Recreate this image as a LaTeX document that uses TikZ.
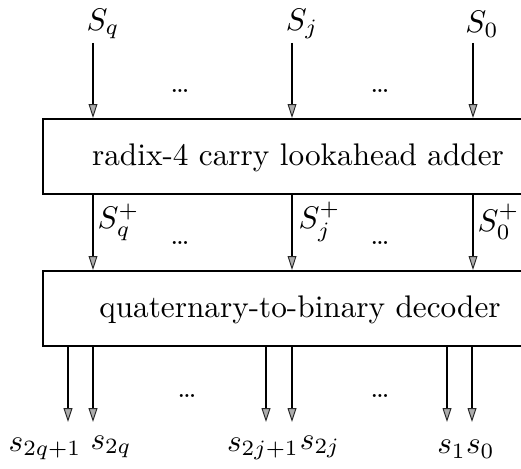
\documentclass[tikz,border=0pt]{standalone}
\usetikzlibrary{arrows.meta}
\begin{document}
\begin{tikzpicture}[x=0.32pt,y=-0.32pt,
  arr/.style={line width=0.7pt, -{Triangle[length=4.4pt,width=2.8pt,color=black!85,fill=gray!65,line width=0.3pt]}},
  box/.style={draw, line width=0.8pt, minimum height=23.9pt, minimum width=160pt, inner sep=0pt},
  lbl/.style={inner sep=0pt},
  dd/.style={inner sep=0pt, font=\small}]
\useasboundingbox (0,0) rectangle (521,469);
\clip (0,0) rectangle (521,469);
% column coordinates
\coordinate (cq) at (93,43);
\coordinate (cj) at (292,43);
\coordinate (c0) at (473,43);
\coordinate (bq1) at (68,422);
\coordinate (bq) at (93,422);
\coordinate (bj1) at (266,422);
\coordinate (bj) at (292,422);
\coordinate (b1) at (447,422);
\coordinate (b0) at (472,422);
% boxes
\node[box] (adder) at (293,156.5) {};
\node[box] (dec) at (293,308.5) {};
\node[lbl] (addertext) at (298,158) {radix-4 carry lookahead adder};
\node[lbl] (dectext) at (300,310) {quaternary-to-binary decoder};
% top labels
\node[lbl] (Sq) at (103,24) {$S_q$};
\node[lbl] (Sj) at (302,24) {$S_j$};
\node[lbl] (S0) at (482,24) {$S_0$};
% top arrows
\draw[arr] (cq) -- (cq |- adder.north);
\draw[arr] (cj) -- (cj |- adder.north);
\draw[arr] (c0) -- (c0 |- adder.north);
\node[dd] at (180,91) {\dots};
\node[dd] at (380,91) {\dots};
% middle arrows
\draw[arr] (cq |- adder.south) -- (cq |- dec.north);
\draw[arr] (cj |- adder.south) -- (cj |- dec.north);
\draw[arr] (c0 |- adder.south) -- (c0 |- dec.north);
\node[lbl,anchor=west] (Sqp) at (97,222) {$S_q^+$};
\node[lbl,anchor=west] (Sjp) at (298,222) {$S_j^+$};
\node[lbl,anchor=west] (S0p) at (477,222) {$S_0^+$};
\node[dd] at (180,243) {\dots};
\node[dd] at (380,243) {\dots};
% bottom arrows
\draw[arr] (bq1 |- dec.south) -- (bq1);
\draw[arr] (bq |- dec.south) -- (bq);
\draw[arr] (bj1 |- dec.south) -- (bj1);
\draw[arr] (bj |- dec.south) -- (bj);
\draw[arr] (b1 |- dec.south) -- (b1);
\draw[arr] (b0 |- dec.south) -- (b0);
\node[dd] at (187,396) {\dots};
\node[dd] at (380,396) {\dots};
\node[lbl] (o1) at (45,449) {$s_{2q+1}$};
\node[lbl] (o2) at (111,447) {$s_{2q}$};
\node[lbl] (o3) at (263,449) {$s_{2j+1}$};
\node[lbl] (o4) at (320,447) {$s_{2j}$};
\node[lbl] (o5) at (466,449) {$s_1s_0$};
\end{tikzpicture}
\end{document}
